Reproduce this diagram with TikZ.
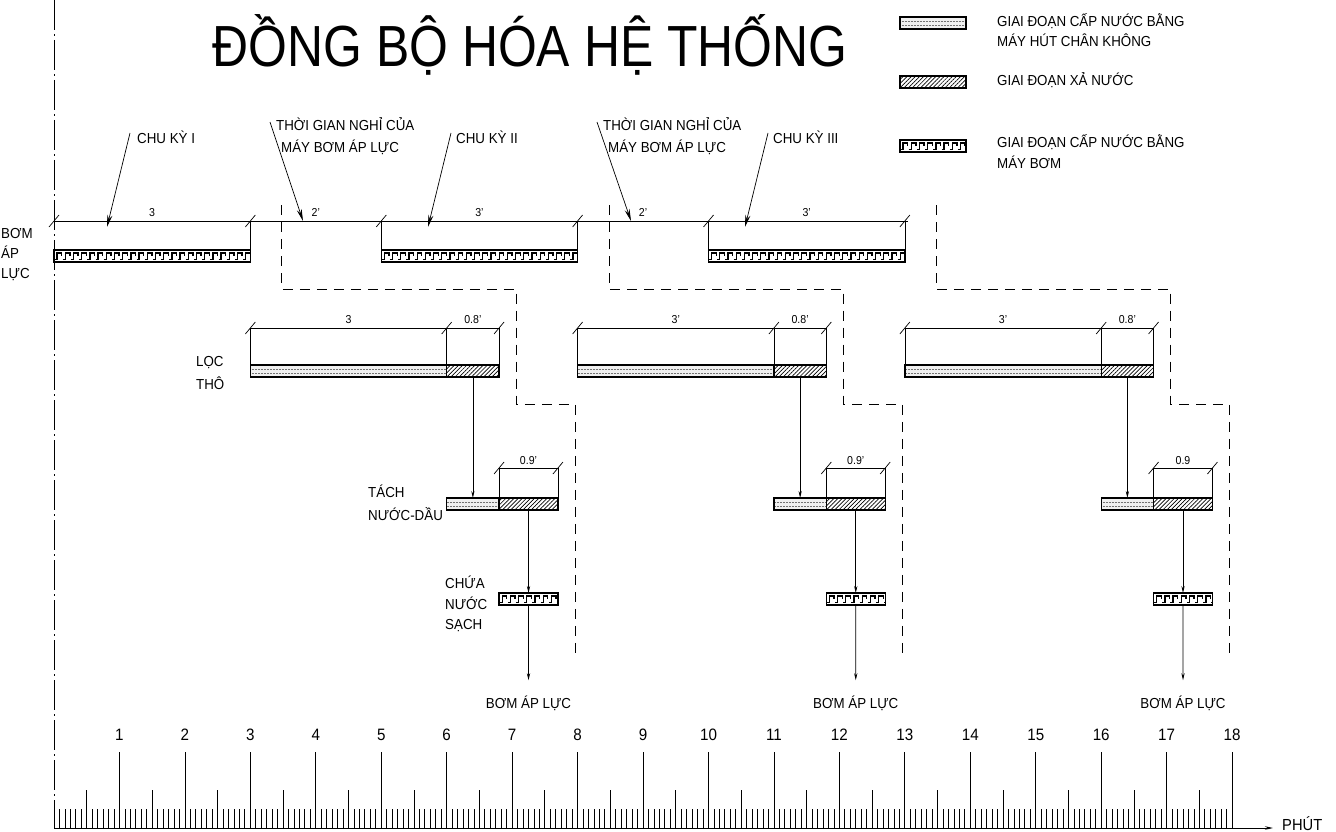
\documentclass[tikz,border=0pt]{standalone}
\usepackage{fontspec}
\setmainfont{Liberation Sans}[FakeStretch=0.92]
\newfontfamily\titlefont{Liberation Sans}[FakeStretch=0.86]
\usetikzlibrary{arrows.meta,patterns.meta}

% one minute on the time axis = 65.45pt, axis origin at x=54
\newcommand{\stagebar}[5]{\node[#2, minimum width={65.45pt*((#4)-(#3))}] (#1) at ({54+65.45*(#3)},#5) {};}
\newcommand{\dimtick}[2]{\draw[line width=0.7pt] ({#1-5},{#2+6}) -- ({#1+5},{#2-6});}

\tikzset{
    stagebox/.style={draw, line width=1.3pt, inner sep=0pt, outer sep=0pt, minimum height=12pt, anchor=north west},
    vacbar/.style={stagebox, fill=black!6,
        path picture={\foreach \dy in {4pt,8pt}{\draw[line width=0.5pt, densely dotted, black!55] ([yshift=\dy]path picture bounding box.south west) -- ([yshift=\dy]path picture bounding box.south east);}}},
    dischbar/.style={stagebox, pattern={Lines[angle=45,distance=2.9pt,line width=0.7pt]}},
    pumpbar/.style={stagebox, fill=white,
        path picture={\foreach \k in {0,...,40}{\draw[line width=1.3pt] ([xshift=\k*8.2pt+0.5pt, yshift=2.8pt]path picture bounding box.south west) -- ++(2.6pt,0pt) -- ++(0pt,6.2pt) -- ++(4.6pt,0pt) -- ++(0pt,-3.4pt);}}},
    dimline/.style={line width=0.7pt},
    extline/.style={line width=0.5pt},
    dashline/.style={line width=0.9pt, dash pattern=on 10pt off 7pt},
    leader/.style={line width=0.7pt, -{Stealth[length=12pt,width=5pt]}},
    flow/.style={line width=0.7pt, -{Stealth[length=7pt,width=3.2pt]}},
    lbl/.style={font=\fontsize{14.5}{16}\selectfont, inner sep=0pt},
    dimlbl/.style={font=\fontsize{11.5}{13}\selectfont, inner sep=0pt, anchor=base},
    numlbl/.style={font=\fontsize{16.5}{18}\selectfont, inner sep=0pt, anchor=base},
    axtick/.style={line width=0.8pt}
}

\begin{document}
\begin{tikzpicture}[x=1pt, y=-1pt]
    \useasboundingbox (0,0) rectangle (1336,832);

    % title and legend
    \node[anchor=base, inner sep=0pt, font=\titlefont\fontsize{58}{60}\selectfont] (title) at (530,67) {ĐỒNG BỘ HÓA HỆ THỐNG};

    \node[vacbar, minimum width=66pt] (lgvac) at (900,17) {};
    \node[dischbar, minimum width=66pt] (lgdis) at (900,76) {};
    \node[pumpbar, minimum width=66pt] (lgpump) at (900,140) {};
    \node[lbl, anchor=base west] (lgvac1) at (997,27) {GIAI ĐOẠN CẤP NƯỚC BẰNG};
    \node[lbl, anchor=base west] (lgvac2) at (997,47) {MÁY HÚT CHÂN KHÔNG};
    \node[lbl, anchor=base west] (lgdis1) at (997,86) {GIAI ĐOẠN XẢ NƯỚC};
    \node[lbl, anchor=base west] (lgpump1) at (997,148) {GIAI ĐOẠN CẤP NƯỚC BẰNG};
    \node[lbl, anchor=base west] (lgpump2) at (997,168) {MÁY BƠM};

    % axis origin
    \draw[line width=0.8pt, dash pattern=on 30pt off 4pt on 2pt off 4pt] (54,0) -- (54,828);

    % row labels
    \node[lbl, anchor=base west] (bom1) at (1,238) {BƠM};
    \node[lbl, anchor=base west] (bom2) at (1,258) {ÁP};
    \node[lbl, anchor=base west] (bom3) at (1,278) {LỰC};
    \node[lbl, anchor=base west] (loc1) at (196,366) {LỌC};
    \node[lbl, anchor=base west] (loc2) at (196,389) {THÔ};
    \node[lbl, anchor=base west] (tach1) at (368,497) {TÁCH};
    \node[lbl, anchor=base west] (tach2) at (368,520) {NƯỚC-DẦU};
    \node[lbl, anchor=base west] (chua1) at (445,588) {CHỨA};
    \node[lbl, anchor=base west] (chua2) at (445,609) {NƯỚC};
    \node[lbl, anchor=base west] (chua3) at (445,629) {SẠCH};

    % pressure pump row
    \draw[dimline] (54,221) -- (907.5,221);
    \foreach \t in {0,3,5,8,10,13} \dimtick{54+65.45*\t}{221};
    \foreach \t in {3,5,8,10,13} \draw[extline] ({54+65.45*\t},221) -- ++(0,29);
    \stagebar{pump1}{pumpbar}{0}{3}{250}
    \stagebar{pump2}{pumpbar}{5}{8}{250}
    \stagebar{pump3}{pumpbar}{10}{13}{250}
    \node[dimlbl] (dp1) at ({54+65.45*1.5},216) {3};
    \node[dimlbl] (dp2) at ({54+65.45*4},216) {2'};
    \node[dimlbl] (dp3) at ({54+65.45*6.5},216) {3'};
    \node[dimlbl] (dp4) at ({54+65.45*9},216) {2'};
    \node[dimlbl] (dp5) at ({54+65.45*11.5},216) {3'};

    % callouts
    \node[lbl, anchor=base west] (cycle1) at (137,143) {CHU KỲ I};
    \node[lbl, anchor=base west] (cycle2) at (456,143) {CHU KỲ II};
    \node[lbl, anchor=base west] (cycle3) at (773,143) {CHU KỲ III};
    \node[lbl, anchor=base west] (rest1a) at (276,131) {THỜI GIAN NGHỈ CỦA};
    \node[lbl, anchor=base west] (rest1b) at (281,153) {MÁY BƠM ÁP LỰC};
    \node[lbl, anchor=base west] (rest2a) at (603,131) {THỜI GIAN NGHỈ CỦA};
    \node[lbl, anchor=base west] (rest2b) at (608,153) {MÁY BƠM ÁP LỰC};
    \coordinate (cycle1s) at (130,133); \coordinate (cycle1t) at (107,227);
    \coordinate (cycle2s) at (451,133); \coordinate (cycle2t) at (428,227);
    \coordinate (cycle3s) at (768,133); \coordinate (cycle3t) at (745,227);
    \coordinate (rest1s) at (270,122); \coordinate (rest1t) at (303,221);
    \coordinate (rest2s) at (597,122); \coordinate (rest2t) at (631,221);
    \draw[leader] (cycle1s) -- (cycle1t);
    \draw[leader] (cycle2s) -- (cycle2t);
    \draw[leader] (cycle3s) -- (cycle3t);
    \draw[leader] (rest1s) -- (rest1t);
    \draw[leader] (rest2s) -- (rest2t);

    % filter, separator and clean water rows for each cycle
    \foreach \i/\c/\la/\lb/\lc in {1/0/3/0.8'/0.9', 2/5/3'/0.8'/0.9', 3/10/3'/0.8'/0.9}{
        \draw[dimline] ({54+65.45*(3+\c)},328) -- ({54+65.45*(6.8+\c)},328);
        \foreach \t in {3,6,6.8}{
            \dimtick{54+65.45*(\t+\c)}{328}
            \draw[extline] ({54+65.45*(\t+\c)},328) -- ++(0,37);
        }
        \node[dimlbl] (dl\i) at ({54+65.45*(4.5+\c)},323) {\la};
        \node[dimlbl] (dm\i) at ({54+65.45*(6.4+\c)},323) {\lb};
        \stagebar{locv\i}{vacbar}{3+\c}{6+\c}{365}
        \stagebar{locx\i}{dischbar}{6+\c}{6.8+\c}{365}

        \draw[dimline] ({54+65.45*(6.8+\c)},468) -- ({54+65.45*(7.7+\c)},468);
        \foreach \t in {6.8,7.7}{
            \dimtick{54+65.45*(\t+\c)}{468}
            \draw[extline] ({54+65.45*(\t+\c)},468) -- ++(0,30);
        }
        \node[dimlbl] (dt\i) at ({54+65.45*(7.25+\c)},464) {\lc};
        \stagebar{tachv\i}{vacbar}{6+\c}{6.8+\c}{498}
        \stagebar{tachx\i}{dischbar}{6.8+\c}{7.7+\c}{498}

        \stagebar{chua\i}{pumpbar}{6.8+\c}{7.7+\c}{593}
        \node[lbl, anchor=base] (out\i) at ({54+65.45*(7.25+\c)},708) {BƠM ÁP LỰC};

        \draw[flow] (locx\i.south) -- (tachv\i.north);
        \draw[flow] (tachx\i.south) -- (chua\i.north);
        \draw[flow] (chua\i.south) -- ([yshift=15pt]out\i.north);

        \draw[dashline] ({54+65.45*(3.48+\c)},205) |- ({54+65.45*(7.06+\c)},289) |- ({54+65.45*(7.96+\c)},404) -- ++(0,254);
    }

    % time axis
    \foreach \k in {1,...,215} \draw[axtick] ({54+65.45*\k/12},809) -- ++(0,19);
    \foreach \k in {0,...,17} \draw[axtick] ({54+65.45*(\k+0.5)},790) -- ++(0,38);
    \foreach \n in {1,...,18}{
        \draw[axtick] ({54+65.45*\n},752) -- ++(0,76);
        \node[numlbl] (num\n) at ({54+65.45*\n},740) {\n};
    }
    \coordinate (axis0) at (54,828);
    \coordinate (axis1) at (1273,828);
    \draw[line width=0.9pt, -{Stealth[length=8pt,width=3.5pt]}] (axis0) -- (axis1);
    \node[font=\fontsize{16}{18}\selectfont, inner sep=0pt, anchor=base west] (minute) at (1282,830) {PHÚT};
\end{tikzpicture}
\end{document}
